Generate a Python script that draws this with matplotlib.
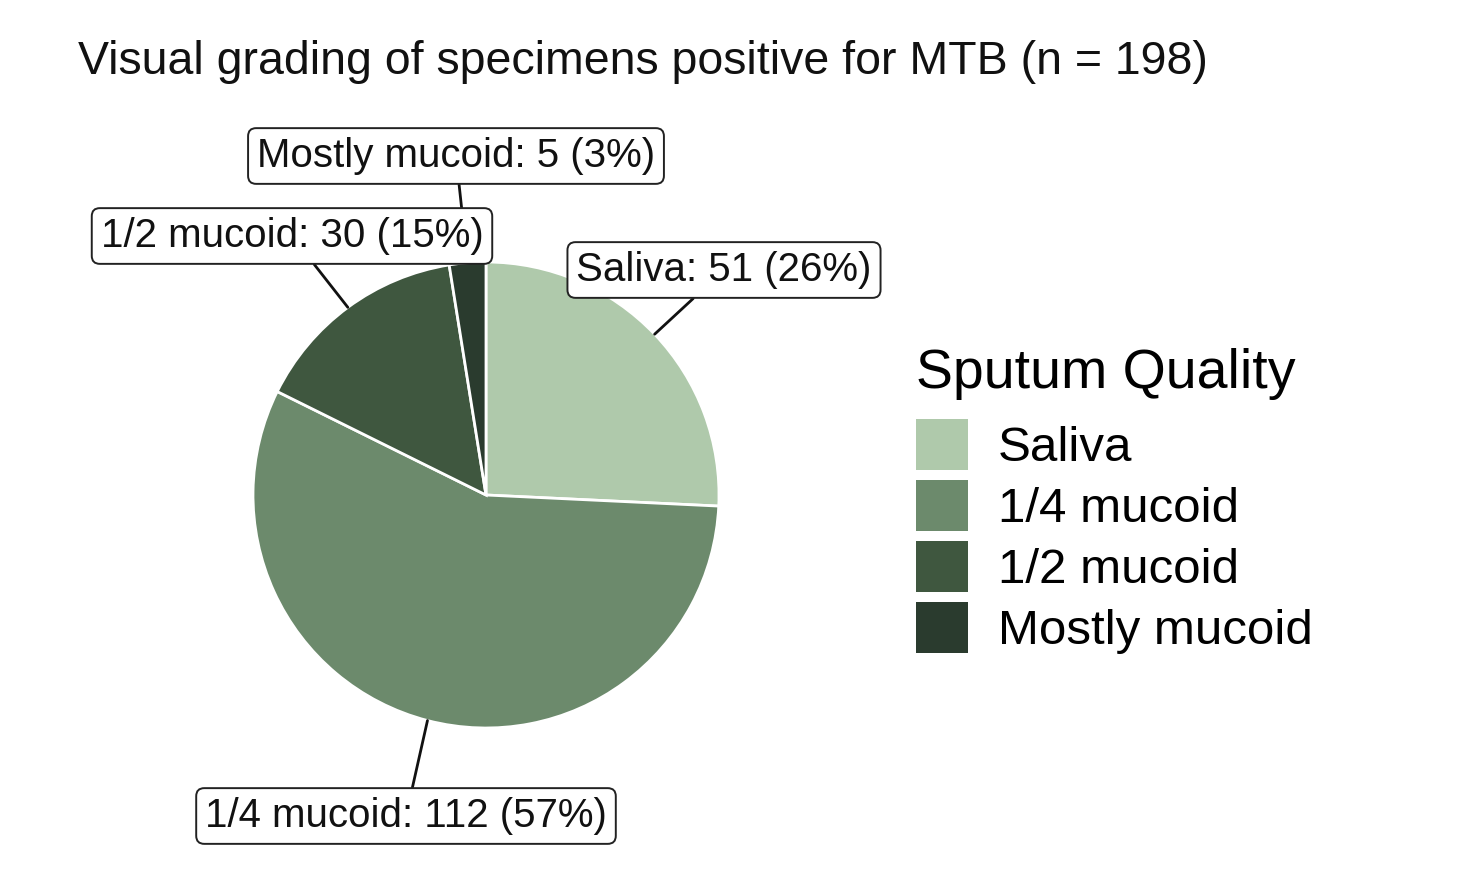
import numpy as np
import matplotlib
matplotlib.use("Agg")
import matplotlib.pyplot as plt

plt.rcParams['font.family'] = ['Liberation Sans', 'DejaVu Sans']

categories = ["Saliva", "1/4 mucoid", "1/2 mucoid", "Mostly mucoid"]
counts = [51, 112, 30, 5]
percent_labels = ["26%", "57%", "15%", "3%"]
colors = ["#afc9ab", "#6c8a6c", "#3f573f", "#2a3b2e"]
title = "Visual grading of specimens positive for MTB (n = 198)"
legend_title = "Sputum Quality"

# label box centres (figure pixel layout, y from top)
label_pos = [(724, 270), (406, 816), (292, 236), (456, 156)]
label_z = [5, 5, 6, 4]

W, H = 1480, 896
fig = plt.figure(figsize=(W / 100, H / 100), dpi=100)
ax = fig.add_axes([0, 0, 1, 1])

cx, cy, R = 486, H - 495, 233
wedges, _ = ax.pie(counts, colors=colors, startangle=90, counterclock=False,
                   center=(cx, cy), radius=R, frame=True,
                   wedgeprops=dict(edgecolor='white', linewidth=2))
ax.set_xlim(0, W)
ax.set_ylim(0, H)
ax.axis('off')

total = sum(counts)
cum = np.cumsum([0] + counts)
for i, (cat, n, pct) in enumerate(zip(categories, counts, percent_labels)):
    mid = (cum[i] + cum[i + 1]) / 2 / total * 2 * np.pi
    px = cx + R * np.sin(mid)
    py = cy + R * np.cos(mid)
    lx, ly = label_pos[i]
    ax.annotate(f"{cat}: {n} ({pct})", xy=(px, py), xytext=(lx, H - ly),
                ha='center', va='center', fontsize=29, color='#111111',
                zorder=label_z[i],
                bbox=dict(boxstyle='round,pad=0.22,rounding_size=0.2',
                          fc='white', ec='#222222', lw=1.4),
                arrowprops=dict(arrowstyle='-', color='#111111', lw=2,
                                shrinkA=0, shrinkB=0))

ax.text(78, H - 62, title, ha='left', va='center', fontsize=33.5, color='#111111')

leg_fs = 35.5
leg = ax.legend(wedges, categories, title=legend_title, loc='upper left',
                bbox_to_anchor=(916 / W, 1 - 348 / H), frameon=False,
                fontsize=leg_fs, title_fontsize=40, handlelength=1.06,
                handleheight=1.22, labelspacing=0.18, handletextpad=0.6,
                borderaxespad=0, borderpad=0)
leg._legend_box.align = "left"
leg._legend_box.sep = 0.18 * leg_fs + 7
for h in leg.legend_handles:
    h.set_edgecolor('none')

fig.savefig("out.png", dpi=100)
